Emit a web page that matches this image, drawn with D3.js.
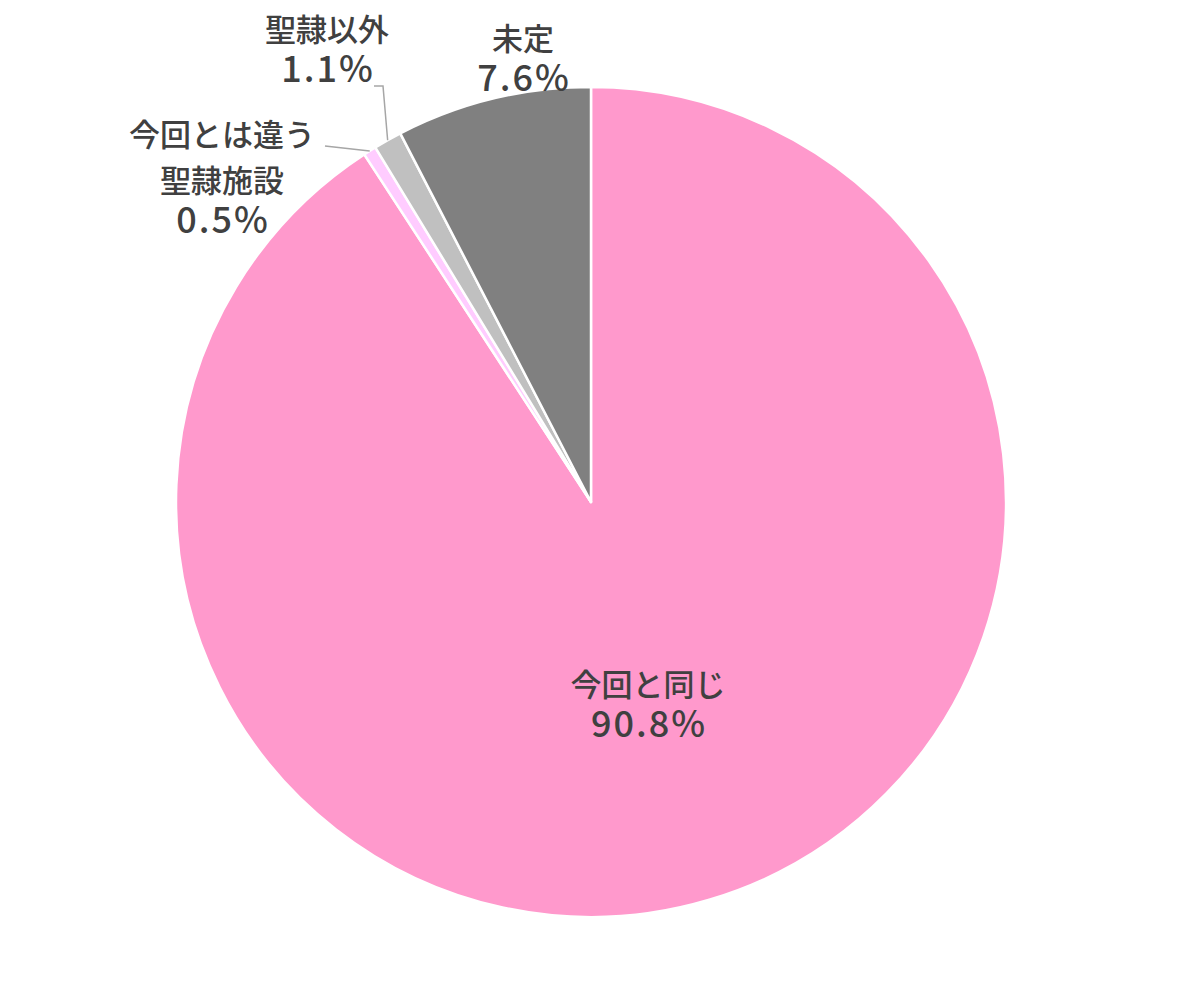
<!DOCTYPE html>
<html>
<head>
<meta charset="utf-8">
<script src="https://cdnjs.cloudflare.com/ajax/libs/d3/7.8.5/d3.min.js"></script>
<style>
  body { margin: 0; background: #fff; }
  text { font-family: "Noto Sans CJK JP", "Noto Sans", sans-serif; fill: #404040; font-weight: 500; }
</style>
</head>
<body>
<script>
var categories = ["今回と同じ", "今回とは違う\n聖隷施設", "聖隷以外", "未定"],
	values = [90.8, 0.5, 1.1, 7.6],
	pctLabels = ["90.8%", "0.5%", "1.1%", "7.6%"],
	colors = ["#FF99CC", "#FFCCFF", "#C0C0C0", "#808080"];

var w = 1182, h = 1005,
	cx = 591, cy = 502, r = 415;

var svg = d3.select("body")
			.append("svg")
			.attr("width", w)
			.attr("height", h);

var g = svg.append("g").attr("transform", "translate(" + cx + "," + cy + ")");

var pie = d3.pie().sort(null).value(function(d) { return d; });
var arcs = pie(values);
var arc = d3.arc().innerRadius(0).outerRadius(r);

g.selectAll("path")
 .data(arcs)
 .enter()
 .append("path")
 .attr("d", arc)
 .attr("fill", function(d, i) { return colors[i]; })
 .attr("stroke", "#fff")
 .attr("stroke-width", 2.5)
 .attr("stroke-linejoin", "round");

// label anchors (centre x, first baseline y) in page coords
var labelPos = [
	{ x: 648, y: 696 },
	{ x: 222, y: 146 },
	{ x: 327, y: 41 },
	{ x: 523, y: 50 }
];

categories.forEach(function(c, i) {
	var lines = c.split("\n");
	var p = labelPos[i];
	lines.forEach(function(s, j) {
		svg.append("text")
		   .attr("text-anchor", "middle")
		   .attr("x", p.x)
		   .attr("y", p.y + j * 46)
		   .attr("font-size", "31px")
		   .text(s);
	});
	svg.append("text")
	   .attr("text-anchor", "middle")
	   .attr("x", p.x + 1)
	   .attr("y", p.y + lines.length * 46 - 5)
	   .attr("font-size", "36px")
	   .attr("letter-spacing", "2px")
	   .text(pctLabels[i]);
});

// leader lines for the two thin slices
function edgePoint(d) {
	var a = (d.startAngle + d.endAngle) / 2;
	return [cx + r * Math.sin(a), cy - r * Math.cos(a)];
}
var p1 = edgePoint(arcs[1]);
svg.append("polyline")
   .attr("points", [[325, 146], p1].join(" "))
   .attr("fill", "none").attr("stroke", "#A6A6A6").attr("stroke-width", 1.5);
var p2 = edgePoint(arcs[2]);
svg.append("polyline")
   .attr("points", [[374, 86], [383, 86], p2].join(" "))
   .attr("fill", "none").attr("stroke", "#A6A6A6").attr("stroke-width", 1.5);
</script>
</body>
</html>
